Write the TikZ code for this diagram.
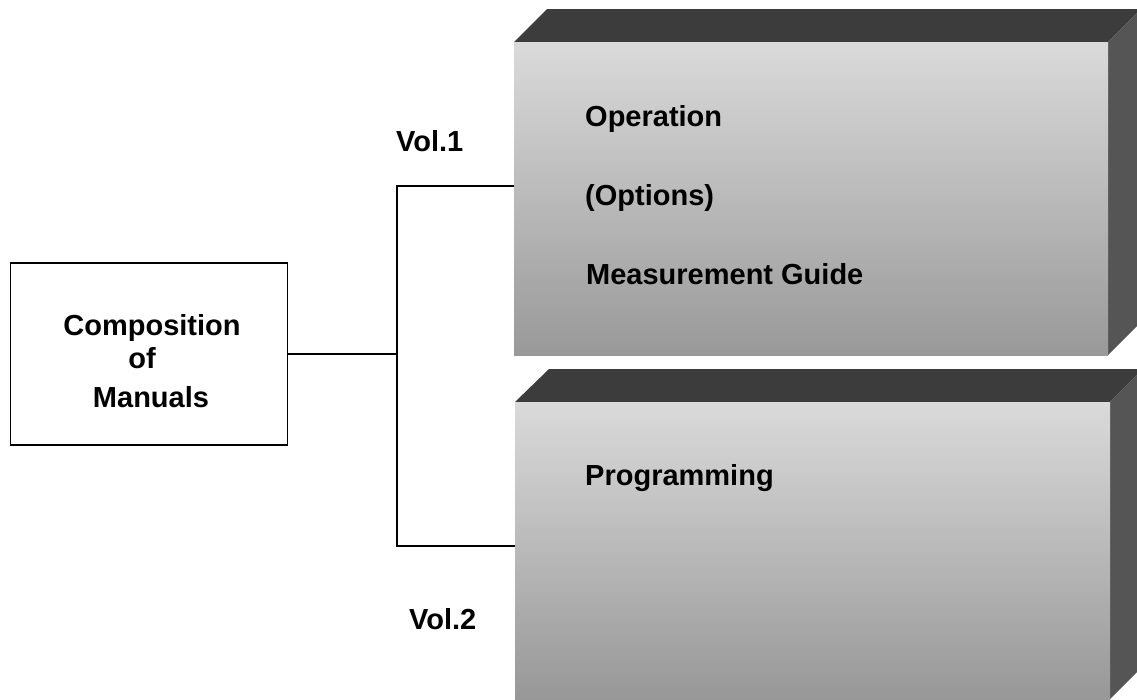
\documentclass[tikz,border=0pt]{standalone}
\usepackage{fontspec}
\setmainfont{Liberation Sans}
\definecolor{topface}{HTML}{3C3C3C}
\definecolor{sideface}{HTML}{555555}
\definecolor{frontlight}{HTML}{DADADA}
\definecolor{frontdark}{HTML}{999999}
\begin{document}
\begin{tikzpicture}[x=1pt,y=-1pt,
  lbl/.style={font=\fontsize{29}{34}\selectfont\bfseries, inner sep=0pt},
  frontface/.style={rectangle, inner sep=0pt, outer sep=0pt, anchor=north west,
    top color=frontlight, bottom color=frontdark, draw=none},
  conn/.style={line width=1.3pt, black},
  compbox/.style={draw=black, line width=1.1pt, rectangle, inner sep=0pt, minimum width=277pt, minimum height=182pt}]
\useasboundingbox (0,0) rectangle (1137,699);
\fill[white] (0,0) rectangle (1137,699);
\begin{scope}
\clip (0,0) rectangle (1137,699);
% Box 1
\fill[topface] (514,42) -- (547,9) -- (1141,9) -- (1108,42) -- cycle;
\fill[sideface] (1108,42) -- (1141,9) -- (1141,322) -- (1108,355) -- cycle;
\node[frontface, minimum width=594pt, minimum height=313pt] (f1) at (514,42) {};
% Box 2
\fill[topface] (515,402) -- (549,369) -- (1143,369) -- (1110,402) -- cycle;
\fill[sideface] (1110,402) -- (1143,369) -- (1143,666) -- (1110,699) -- cycle;
\node[frontface, minimum width=595pt, minimum height=310pt, bottom color=frontdark!97!black] (f2) at (515,402) {};
\end{scope}
% Composition box
\node[compbox] (comp) at (149,354) {};
\node[lbl, anchor=base] (t1) at (152,335) {Composition};
\node[lbl, anchor=base] (t2) at (142,368) {of};
\node[lbl, anchor=base] (t3) at (151,407) {Manuals};
% connectors
\coordinate (j) at (comp.east -| 397,0);
\coordinate (c1) at (f1.west |- 0,186);
\coordinate (c2) at (f2.west |- 0,546);
\draw[conn] (comp.east) -- (j);
\draw[conn] (j) |- (c1);
\draw[conn] (j) |- (c2);
% labels
\node[lbl, anchor=base west] (v1) at (396,151) {Vol.1};
\node[lbl, anchor=base west] (v2) at (409,629) {Vol.2};
\node[lbl, anchor=base west] (o1) at (585,126) {Operation};
\node[lbl, anchor=base west] (o2) at (585,205) {(Options)};
\node[lbl, anchor=base west] (o3) at (586,284) {Measurement Guide};
\node[lbl, anchor=base west] (p1) at (585,485) {Programming};
\end{tikzpicture}
\end{document}
